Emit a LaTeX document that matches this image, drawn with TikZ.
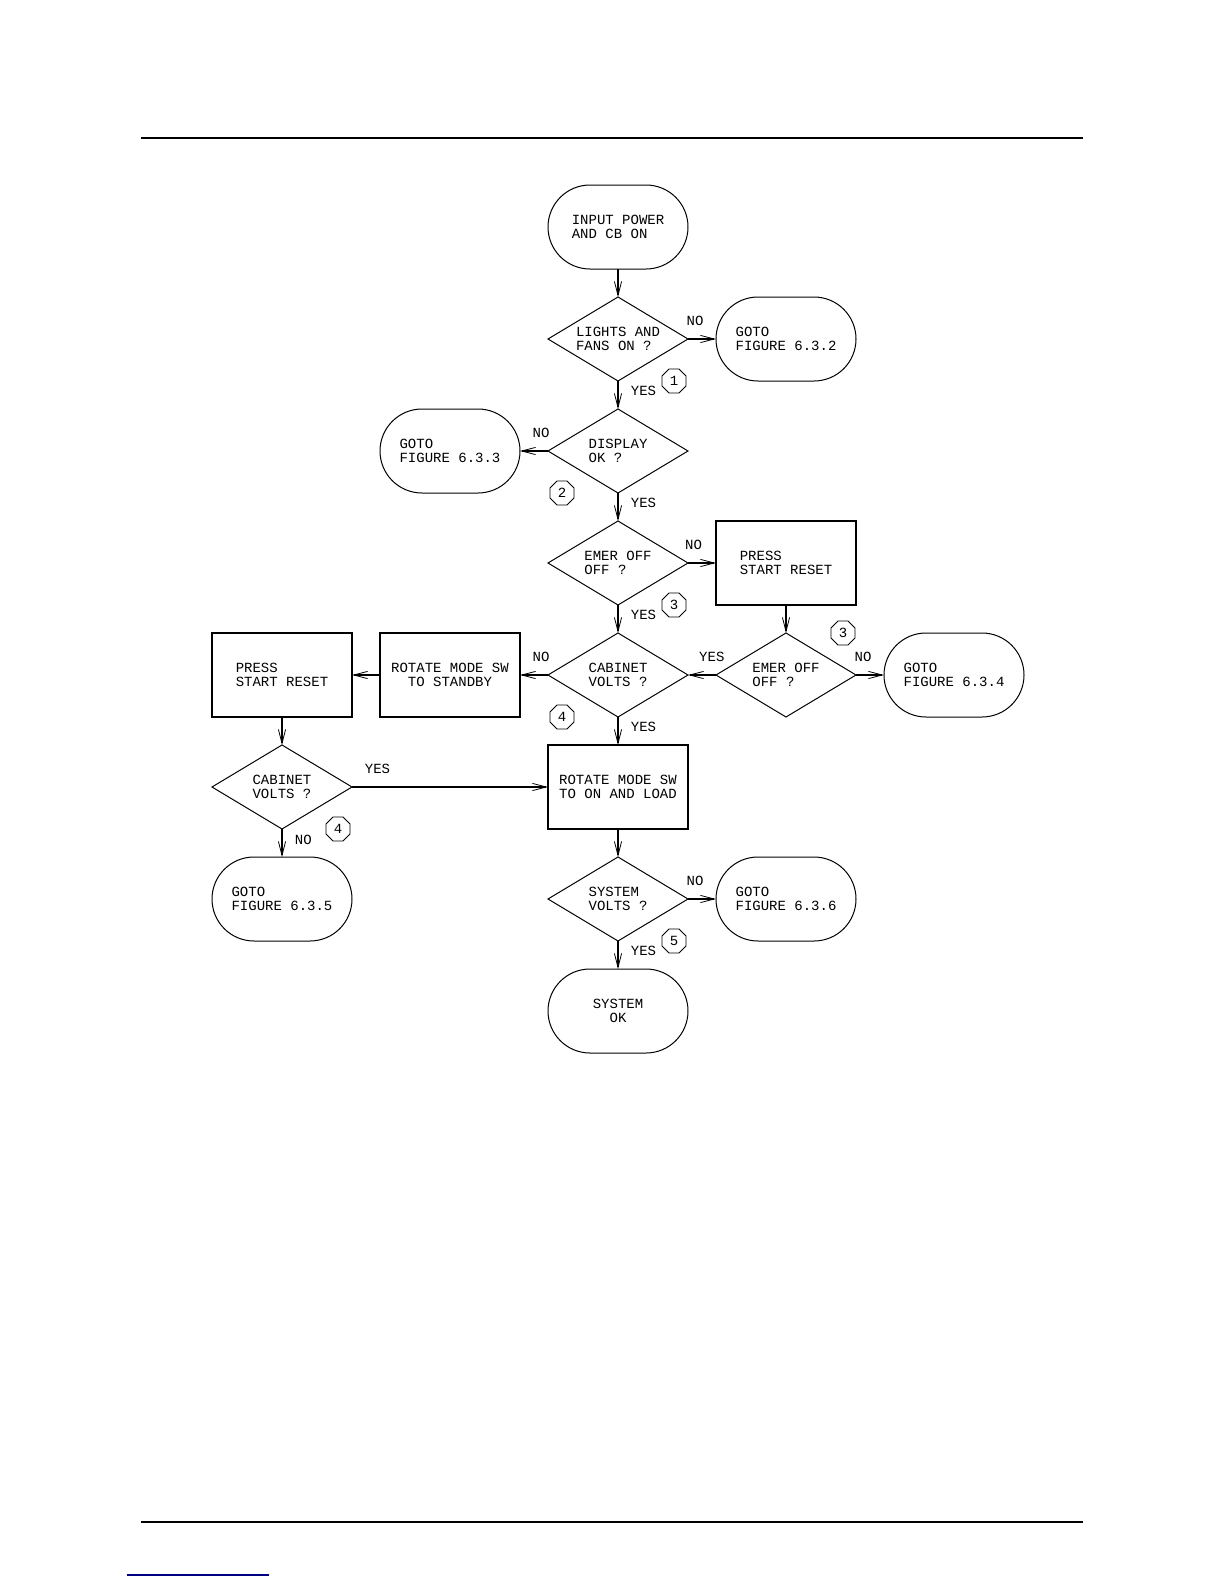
\documentclass[tikz,border=0pt]{standalone}
\usepackage{fontspec}
\usepackage{tikz}
\usetikzlibrary{arrows.meta, positioning, shapes.geometric}

\newfontfamily\cadfont{Liberation Mono}

\begin{document}
\begin{tikzpicture}[
        x=0.5pt, y=-0.5pt,
        font=\cadfont\fontsize{7}{7.1}\selectfont,
        node distance=14pt and 14pt,
        terminal/.style={
            draw,
            line width=0.5pt,
            rounded corners=21pt,
            align=left,
            minimum width=70pt,
            minimum height=42pt,
            inner sep=0pt,
            outer sep=0pt
        },
        decision/.style={
            draw,
            diamond,
            line width=0.5pt,
            shape aspect=1.66,
            align=left,
            minimum width=70pt,
            minimum height=42pt,
            inner sep=0pt,
            outer sep=0pt
        },
        process/.style={
            draw,
            line width=0.8pt,
            align=left,
            minimum width=70pt,
            minimum height=42pt,
            inner sep=0pt,
            outer sep=0pt
        },
        refnum/.style={
            draw,
            regular polygon,
            regular polygon sides=8,
            line width=0.4pt,
            minimum size=13pt,
            inner sep=0pt
        },
        arrow/.style={
            -{Straight Barb[length=7pt, width=3.6pt, line width=0.4pt]},
            line width=0.9pt
        },
        answer/.style={
            inner sep=1pt
        }
    ]

    \useasboundingbox (0,0) rectangle (1224,1584);

    % page rules
    \draw[line width=1pt] (141,138) -- (1083,138);
    \draw[line width=1pt] (141,1522) -- (1083,1522);
    \draw[line width=0.8pt, blue!50!black] (127,1575) -- (269,1575);

    % main column
    \node[terminal] (input) at (618,227) {INPUT POWER\\AND CB ON};
    \node[decision, below=of input] (lights) {LIGHTS AND\\FANS ON ?};
    \node[decision, below=of lights] (display) {DISPLAY\\OK ?};
    \node[decision, below=of display] (emer) {EMER OFF\\OFF ?};
    \node[decision, below=of emer] (cabinet) {CABINET\\VOLTS ?};
    \node[process, below=of cabinet, align=center] (onload) {ROTATE MODE SW\\TO ON AND LOAD};
    \node[decision, below=of onload] (sysvolts) {SYSTEM\\VOLTS ?};
    \node[terminal, below=of sysvolts, align=center] (sysok) {SYSTEM\\OK};

    % right side
    \node[terminal, right=of lights] (goto2) {GOTO\\FIGURE 6.3.2};
    \node[process, right=of emer] (pressR) {PRESS\\START RESET};
    \node[decision, right=of cabinet] (emerR) {EMER OFF\\OFF ?};
    \node[terminal, right=of emerR] (goto4) {GOTO\\FIGURE 6.3.4};
    \node[terminal, right=of sysvolts] (goto6) {GOTO\\FIGURE 6.3.6};

    % left side
    \node[terminal, left=of display] (goto3) {GOTO\\FIGURE 6.3.3};
    \node[process, left=of cabinet, align=center] (standby) {ROTATE MODE SW\\TO STANDBY};
    \node[process, left=of standby] (pressL) {PRESS\\START RESET};
    \node[decision, below=of pressL] (cabinetL) {CABINET\\VOLTS ?};
    \node[terminal, below=of cabinetL] (goto5) {GOTO\\FIGURE 6.3.5};

    % reference numbers
    \node[refnum] (n1) at ([xshift=28pt]lights.south) {1};
    \node[refnum] (n2) at ([xshift=-28pt]display.south) {2};
    \node[refnum] (n3) at ([xshift=28pt]emer.south) {3};
    \node[refnum] (n3r) at ([xshift=28.5pt]emerR.north) {3};
    \node[refnum] (n4) at ([xshift=-28pt]cabinet.south) {4};
    \node[refnum] (n4l) at ([xshift=28pt]cabinetL.south) {4};
    \node[refnum] (n5) at ([xshift=28pt]sysvolts.south) {5};

    % connectors
    \draw[arrow] (input) -- (lights);
    \draw[arrow] (lights) -- node[answer, right=5pt, pos=0.35] {YES} (display);
    \draw[arrow] (lights) -- node[answer, above=5pt, pos=0.25] {NO} (goto2);
    \draw[arrow] (display) -- node[answer, above=5pt, pos=0.25] {NO} (goto3);
    \draw[arrow] (display) -- node[answer, right=5pt, pos=0.35] {YES} (emer);
    \draw[arrow] (emer) -- node[answer, above=5pt, pos=0.2] {NO} (pressR);
    \draw[arrow] (emer) -- node[answer, right=5pt, pos=0.35] {YES} (cabinet);
    \draw[arrow] (pressR) -- (emerR);
    \draw[arrow] (emerR) -- node[answer, above=5pt, pos=0.15] {YES} (cabinet);
    \draw[arrow] (emerR) -- node[answer, above=5pt, pos=0.25] {NO} (goto4);
    \draw[arrow] (cabinet) -- node[answer, above=5pt, pos=0.25] {NO} (standby);
    \draw[arrow] (standby) -- (pressL);
    \draw[arrow] (pressL) -- (cabinetL);
    \draw[arrow] (cabinetL) -- node[answer, above=5pt, pos=0.13] {YES} (onload);
    \draw[arrow] (cabinetL) -- node[answer, right=5pt, pos=0.4] {NO} (goto5);
    \draw[arrow] (cabinet) -- node[answer, right=5pt, pos=0.35] {YES} (onload);
    \draw[arrow] (onload) -- (sysvolts);
    \draw[arrow] (sysvolts) -- node[answer, above=5pt, pos=0.25] {NO} (goto6);
    \draw[arrow] (sysvolts) -- node[answer, right=5pt, pos=0.35] {YES} (sysok);

\end{tikzpicture}
\end{document}
